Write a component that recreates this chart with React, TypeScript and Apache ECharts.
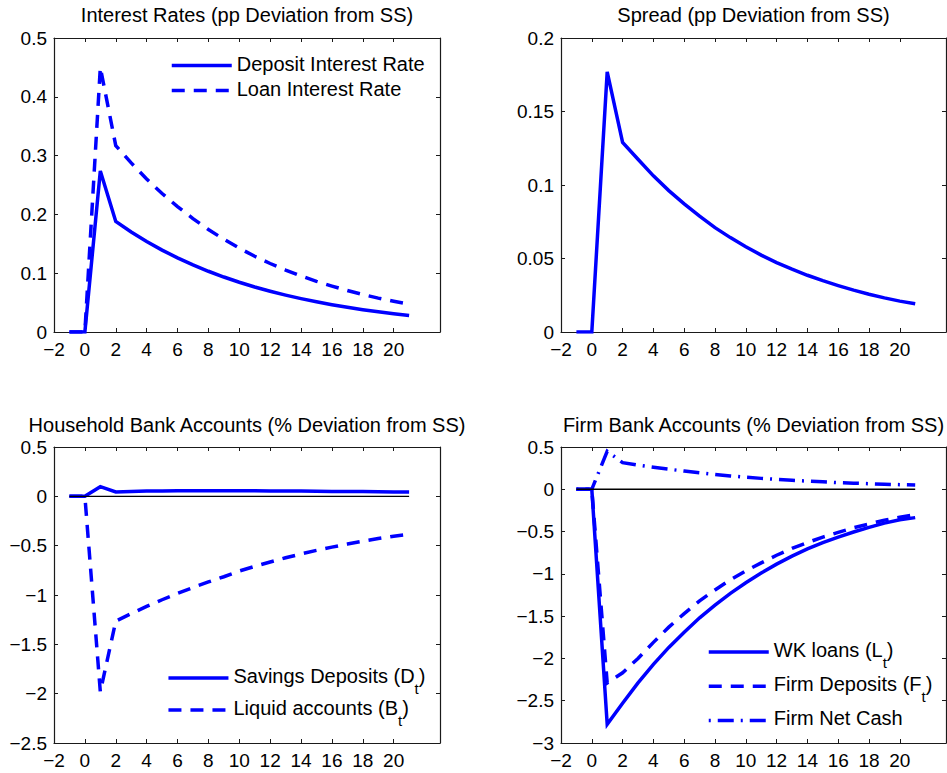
import React, { useEffect, useRef } from 'react';
import * as echarts from 'echarts';

// ---------- data ----------
const periods = [-1, 0, 1, 2, 3, 4, 5, 6, 7, 8, 9, 10, 11, 12, 13, 14, 15, 16, 17, 18, 19, 20, 21];

const depositRate = [0, 0, 0.274, 0.188, 0.1701, 0.154, 0.1393, 0.1261, 0.1141, 0.1033, 0.0935, 0.0846, 0.0765, 0.0693, 0.0627, 0.0567, 0.0513, 0.0465, 0.042, 0.038, 0.0344, 0.0312, 0.0282];
const loanRate = [0, 0, 0.45, 0.317, 0.2876, 0.2602, 0.2355, 0.2133, 0.1929, 0.1743, 0.1577, 0.1426, 0.1288, 0.1165, 0.1054, 0.0953, 0.0862, 0.0781, 0.0705, 0.0637, 0.0576, 0.0522, 0.0474];
const spread = [0, 0, 0.177, 0.129, 0.1175, 0.1062, 0.0962, 0.0872, 0.0788, 0.071, 0.0642, 0.058, 0.0523, 0.0472, 0.0427, 0.0386, 0.0349, 0.0316, 0.0285, 0.0257, 0.0232, 0.021, 0.0192];
const savingsDeposits = [0, 0, 0.098, 0.045, 0.05, 0.053, 0.055, 0.056, 0.057, 0.057, 0.057, 0.057, 0.056, 0.055, 0.054, 0.053, 0.052, 0.05, 0.049, 0.048, 0.046, 0.045, 0.044];
const liquidAccounts = [0, 0, -1.98, -1.265, -1.188, -1.116, -1.048, -0.984, -0.924, -0.868, -0.815, -0.757, -0.71, -0.665, -0.623, -0.584, -0.548, -0.515, -0.484, -0.455, -0.428, -0.404, -0.385];
const wkLoans = [0, 0, -2.78, -2.53, -2.29, -2.07, -1.87, -1.69, -1.52, -1.37, -1.23, -1.105, -0.99, -0.885, -0.79, -0.705, -0.63, -0.565, -0.505, -0.45, -0.4, -0.36, -0.335];
const firmDeposits = [0, 0, -2.29, -2.17, -2.0, -1.81, -1.63, -1.47, -1.32, -1.19, -1.07, -0.965, -0.87, -0.78, -0.7, -0.63, -0.565, -0.51, -0.455, -0.41, -0.365, -0.33, -0.3];
const firmNetCash = [0, 0, 0.45, 0.315, 0.285, 0.26, 0.238, 0.215, 0.195, 0.176, 0.158, 0.142, 0.129, 0.117, 0.106, 0.097, 0.088, 0.079, 0.072, 0.066, 0.06, 0.055, 0.05];
const zeroLine = [0, 0];
const zeroSpan = [-1, 21];

const xTicks = [-2, 0, 2, 4, 6, 8, 10, 12, 14, 16, 18, 20];
const xRange = [-2, 23];
const yRanges: number[][] = [
  [0, 0.5, 0.1],
  [0, 0.2, 0.05],
  [-2.5, 0.5, 0.5],
  [-3, 0.5, 0.5],
];
const titles = [
  'Interest Rates (pp Deviation from SS)',
  'Spread (pp Deviation from SS)',
  'Household Bank Accounts (% Deviation from SS)',
  'Firm Bank Accounts (% Deviation from SS)',
];

// ---------- style ----------
const FONT = '"Liberation Sans", Arial, Helvetica, sans-serif';
const BLUE = '#0000ff';
const AXIS = '#1a1a1a';
const LW = 3.5;
const DASH = [13, 9];
const DASHDOT = [16, 7, 2, 7];

const grids = [
  { left: 54, top: 38, width: 386, height: 294 },
  { left: 561, top: 38, width: 385, height: 294 },
  { left: 54, top: 447, width: 386, height: 296 },
  { left: 561, top: 447, width: 385, height: 296 },
];

const legendLabels: Record<string, string> = {
  'Deposit Interest Rate': '{n|Deposit Interest Rate}',
  'Loan Interest Rate': '{n|Loan Interest Rate}',
  'Savings Deposits (Dt)': '{n|Savings Deposits (D}{s|t}{n|)}',
  'Liquid accounts (Bt)': '{n|Liquid accounts (B}{s|t}{n|)}',
  'WK loans (Lt)': '{n|WK loans (L}{s|t}{n|)}',
  'Firm Deposits (Ft)': '{n|Firm Deposits (F}{s|t}{n|)}',
  'Firm Net Cash': '{n|Firm Net Cash}',
};

const fmt = (v: number) => {
  const s = String(Number(v.toFixed(3)));
  return s.replace('-', '\u2212');
};

const pairs = (ys: number[]) => periods.map((t, i) => [t, ys[i]]);

function buildOption() {
  const xAxis: any[] = [];
  const yAxis: any[] = [];
  grids.forEach((_, g) => {
    const base = {
      type: 'value',
      gridIndex: g,
      min: xRange[0],
      max: xRange[1],
      splitLine: { show: false },
      axisLine: { show: true, onZero: false, lineStyle: { color: AXIS, width: 1.2 } },
      axisTick: { show: true, inside: true, length: 4, customValues: xTicks, lineStyle: { color: AXIS, width: 1 } },
    };
    xAxis.push({
      ...base,
      position: 'bottom',
      axisLabel: { show: true, customValues: xTicks, formatter: fmt, fontSize: 19, color: '#000', fontFamily: FONT, margin: 8 },
    });
    xAxis.push({ ...base, position: 'top', axisLabel: { show: false } });
    const [mn, mx, iv] = yRanges[g];
    const ybase = {
      type: 'value',
      gridIndex: g,
      min: mn,
      max: mx,
      interval: iv,
      splitLine: { show: false },
      axisLine: { show: true, onZero: false, lineStyle: { color: AXIS, width: 1.2 } },
      axisTick: { show: true, inside: true, length: 4, lineStyle: { color: AXIS, width: 1 } },
    };
    yAxis.push({
      ...ybase,
      position: 'left',
      axisLabel: { show: true, formatter: fmt, fontSize: 19, color: '#000', fontFamily: FONT, margin: 7 },
    });
    yAxis.push({ ...ybase, position: 'right', axisLabel: { show: false } });
  });

  const line = (name: string, g: number, ys: number[], type: any, dashOffset = 0) => ({
    name,
    type: 'line',
    xAxisIndex: 2 * g,
    yAxisIndex: 2 * g,
    data: pairs(ys),
    symbol: 'none',
    showSymbol: false,
    clip: true,
    z: 2,
    lineStyle: { color: BLUE, width: LW, type, dashOffset, cap: 'butt', join: 'miter' },
    itemStyle: { color: BLUE },
  });
  const zero = (g: number) => ({
    name: 'zero' + g,
    type: 'line',
    xAxisIndex: 2 * g,
    yAxisIndex: 2 * g,
    data: zeroSpan.map((t, i) => [t, zeroLine[i]]),
    symbol: 'none',
    z: 3,
    lineStyle: { color: '#000', width: 1.4 },
    itemStyle: { color: '#000' },
  });

  const series = [
    line('Deposit Interest Rate', 0, depositRate, 'solid'),
    line('Loan Interest Rate', 0, loanRate, DASH),
    line('Spread', 1, spread, 'solid'),
    line('Savings Deposits (Dt)', 2, savingsDeposits, 'solid'),
    line('Liquid accounts (Bt)', 2, liquidAccounts, DASH),
    zero(2),
    line('WK loans (Lt)', 3, wkLoans, 'solid'),
    line('Firm Deposits (Ft)', 3, firmDeposits, DASH),
    line('Firm Net Cash', 3, firmNetCash, DASHDOT, 23),
    zero(3),
  ];

  const rich = {
    n: { fontSize: 20, lineHeight: 24, verticalAlign: 'top', fontFamily: FONT, color: '#000' },
    s: { fontSize: 15, lineHeight: 15, padding: [14.5, 0, 0, 0], verticalAlign: 'top', fontFamily: FONT, color: '#000' },
  };
  const legend = (data: string[], left: number, top: number, gap: number) => ({
    data,
    left,
    top,
    orient: 'vertical',
    padding: 0,
    itemGap: gap,
    itemWidth: 60,
    itemHeight: 14,
    selectedMode: false,
    formatter: (name: string) => legendLabels[name] || name,
    textStyle: { fontSize: 20, fontFamily: FONT, color: '#000', rich },
    itemStyle: { opacity: 0 },
    lineStyle: { width: LW, opacity: 1 },
  });

  const centers = [
    [247, 15],
    [753.5, 15],
    [247, 425],
    [753.5, 425],
  ];

  return {
    animation: false,
    backgroundColor: '#fff',
    title: titles.map((text, i) => ({
      text,
      left: centers[i][0],
      top: centers[i][1],
      textAlign: 'center',
      textVerticalAlign: 'middle',
      padding: 0,
      textStyle: { fontSize: 20, fontWeight: 'normal', color: '#000', fontFamily: FONT },
    })),
    grid: grids.map((g) => ({ ...g, containLabel: false })),
    xAxis,
    yAxis,
    legend: [
      legend(['Deposit Interest Rate', 'Loan Interest Rate'], 170, 53.6, 5),
      legend(['Savings Deposits (Dt)', 'Liquid accounts (Bt)'], 166.7, 666, 2.5),
      legend(['WK loans (Lt)', 'Firm Deposits (Ft)', 'Firm Net Cash'], 707, 640, 4.7),
    ],
    series,
  };
}

export default function App() {
  const ref = useRef<HTMLDivElement>(null);
  useEffect(() => {
    if (!ref.current) return;
    const chart = echarts.init(ref.current, undefined, { renderer: 'svg' });
    chart.setOption(buildOption() as any);
    return () => chart.dispose();
  }, []);
  return (
    <div
      ref={ref}
      style={{ position: 'absolute', left: 0, top: 0, width: 947, height: 773, background: '#fff' }}
    />
  );
}
